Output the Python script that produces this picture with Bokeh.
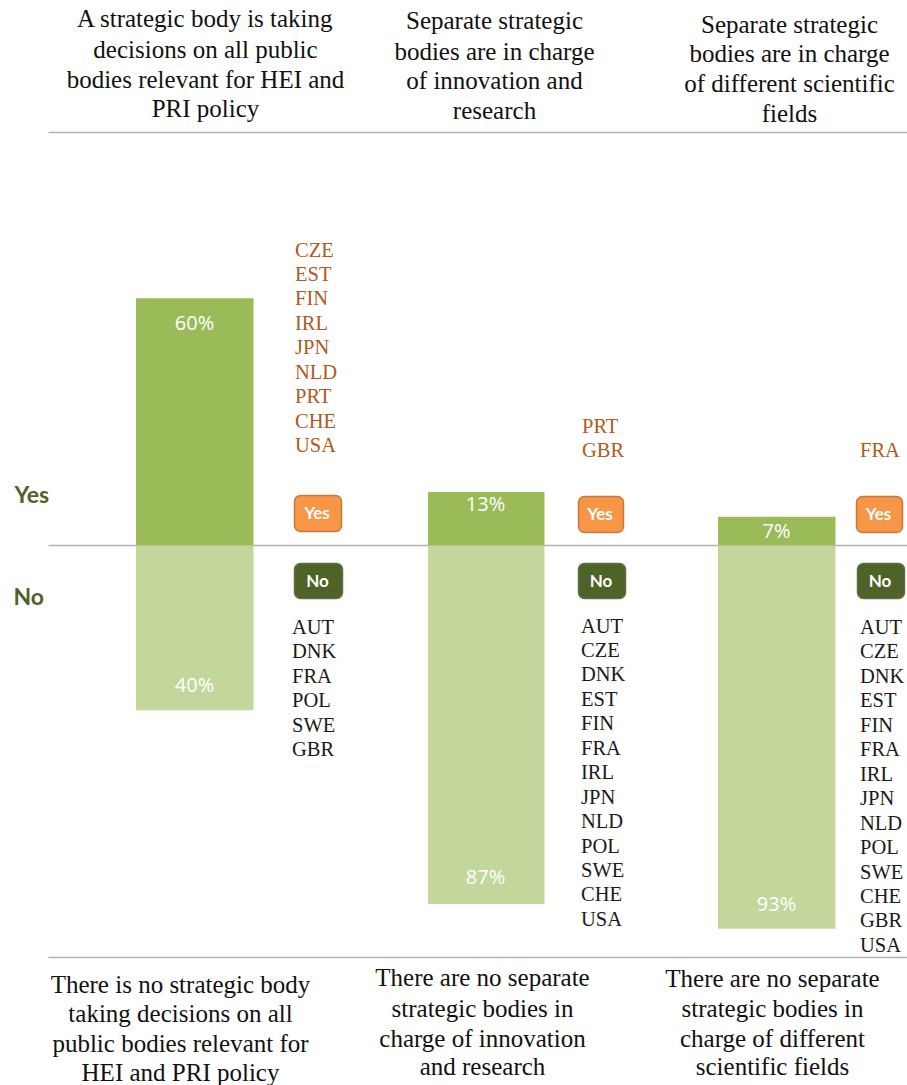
from bokeh.plotting import figure
from bokeh.embed import file_html
from bokeh.resources import INLINE
from bokeh.core.properties import value
from bokeh.models import Range1d

yes_pct = [60, 13, 7]
no_pct = [40, 87, 93]
yes_countries = [["CZE","EST","FIN","IRL","JPN","NLD","PRT","CHE","USA"], ["PRT","GBR"], ["FRA"]]
no_countries = [["AUT","DNK","FRA","POL","SWE","GBR"],
                ["AUT","CZE","DNK","EST","FIN","FRA","IRL","JPN","NLD","POL","SWE","CHE","USA"],
                ["AUT","CZE","DNK","EST","FIN","FRA","IRL","JPN","NLD","POL","SWE","CHE","GBR","USA"]]
headers = [["A strategic body is taking","decisions on all public","bodies relevant for HEI and","PRI policy"],
           ["Separate strategic","bodies are in charge","of innovation and","research"],
           ["Separate strategic","bodies are in charge","of different scientific","fields"]]
footers = [["There is no strategic body","taking decisions on all","public bodies relevant for","HEI and PRI policy"],
           ["There are no separate","strategic bodies in","charge of innovation","and research"],
           ["There are no separate","strategic bodies in","charge of different","scientific fields"]]

W, H = 907, 1085
PX = 4.12
BASE = 545
def X(px): return px
def Y(py): return (BASE - py) / PX

p = figure(width=W, height=H, output_backend="svg", toolbar_location=None,
           x_range=Range1d(0, W), y_range=Range1d(Y(H), Y(0)),
           min_border=0, min_border_left=0, min_border_right=0, min_border_top=0, min_border_bottom=0)
p.axis.visible = False
p.grid.visible = False
p.outline_line_color = None

SERIF = value("Liberation Serif")
BAR_L = [135.5, 427.5, 717.5]
BAR_R = [253, 544, 835]
YES_C, NO_C = "#9BBB59", "#C3D69B"
DARK = "#4F6228"

# rules
for py in (132, 545, 957):
    p.segment([X(48)], [Y(py)], [X(907)], [Y(py)], line_color="#B3B3B3", line_width=1.5)

# bars
p.quad(left=[X(v) for v in BAR_L], right=[X(v) for v in BAR_R], bottom=0, top=yes_pct, fill_color=YES_C, line_color=None)
p.quad(left=[X(v) for v in BAR_L], right=[X(v) for v in BAR_R], top=0, bottom=[-v for v in no_pct], fill_color=NO_C, line_color=None)

# percent labels
yes_lab_y = [322, 503, 530]
no_lab_y = [684, 876, 903]
cx = [194, 485, 776]
p.text(x=[X(v) for v in cx], y=[Y(v) for v in yes_lab_y], text=[f"{v}%" for v in yes_pct], text_color="white",
       text_font=value("Open Sans"), text_font_size="20px", text_align="center", text_baseline="middle")
p.text(x=[X(v) for v in cx], y=[Y(v) for v in no_lab_y], text=[f"{v}%" for v in no_pct], text_color="white",
       text_font=value("Open Sans"), text_font_size="20px", text_align="center", text_baseline="middle")

# buttons
yes_btn = [(294, 341, 495, 531), (578, 623, 496, 532), (856, 902, 496, 532)]
no_btn = [(294, 342, 563, 598), (578, 625, 563, 598), (857, 904, 563, 598)]
for boxes, fill, edge, word in ((yes_btn, "#F79646", "#C77A3C", "Yes"), (no_btn, DARK, "#5F7040", "No")):
    p.quad(left=[X(b[0]) for b in boxes], right=[X(b[1]) for b in boxes],
           top=[Y(b[2]) for b in boxes], bottom=[Y(b[3]) for b in boxes],
           fill_color=fill, line_color=edge, line_width=1.5, border_radius=6)
    p.text(x=[X((b[0]+b[1])/2 - 1) for b in boxes], y=[Y((b[2]+b[3])/2 - 1) for b in boxes], text=[word]*3,
           text_color="white", text_font=value("Lato"), text_font_style="bold", text_font_size="17px",
           text_align="center", text_baseline="middle")

# side labels
p.text(x=[X(14), X(13)], y=[Y(493), Y(595)], text=["Yes", "No"], text_color=DARK, text_font=value("Lato"),
       text_font_style="bold", text_font_size="23px", text_align="left", text_baseline="middle")

# country lists
STEP = 24.45
def column(names, px, py0, color):
    p.text(x=[X(px)]*len(names), y=[Y(py0 + i*STEP) for i in range(len(names))], text=names, text_color=color,
           text_font=SERIF, text_font_size="20.5px", text_align="left", text_baseline="middle")
for names, px, py0 in zip(yes_countries, (294.5, 581.5, 859.5), (249, 425, 449)):
    column(names, px, py0, "#B05A1C")
for names, px, py0 in zip(no_countries, (291.5, 580.5, 859.5), (626.5, 625, 626.5)):
    column(names, px, py0, "#1A1A1A")

# header and footer blocks
def block(lines, px, ys):
    p.text(x=[X(px)]*len(lines), y=[Y(v) for v in ys], text=lines, text_color="#111111", text_font=SERIF,
           text_font_size="25px", text_align="center", text_baseline="middle")
block(headers[0], 205, (18, 49, 79, 108))
block(headers[1], 494, (20, 51, 80, 110))
block(headers[2], 789, (24, 53, 83, 113))
block(footers[0], 180, (984, 1013, 1043, 1072))
block(footers[1], 482, (977, 1008, 1038, 1066))
block(footers[2], 772, (978, 1008, 1038, 1066))

open("out.html", "w").write(file_html(p, INLINE))
